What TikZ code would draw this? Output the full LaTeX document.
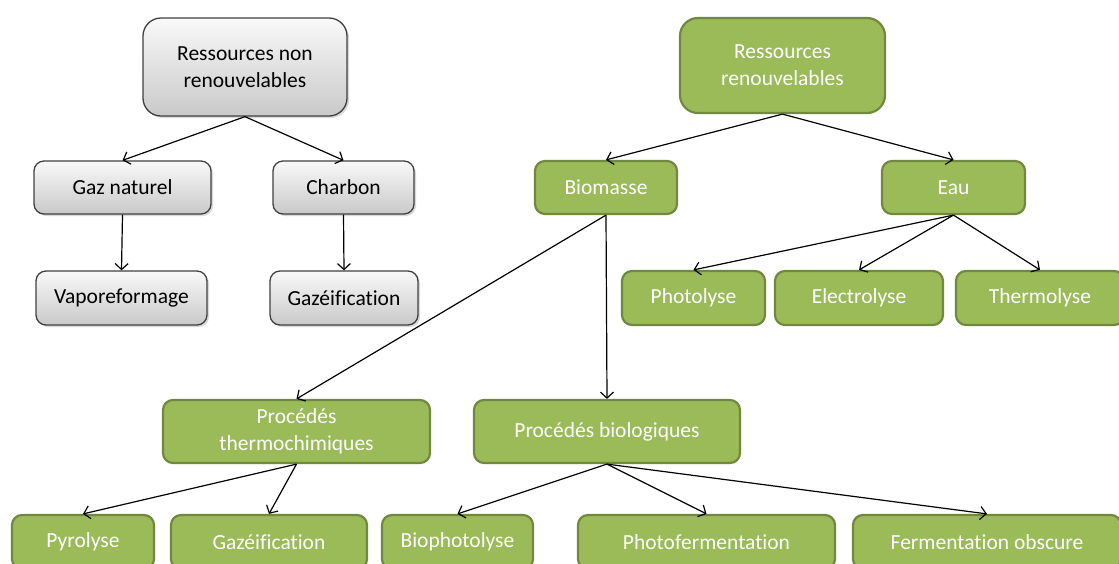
\documentclass[tikz,border=0pt]{standalone}
\usepackage{fontspec}
\setmainfont{Carlito}[Ligatures=NoCommon]
\usetikzlibrary{arrows.meta,shadows}
\definecolor{grn}{HTML}{9BBB59}
\definecolor{grnb}{HTML}{71893F}
\begin{document}
\begin{tikzpicture}[x=1pt,y=-1pt,
 txt/.style={font=\fontsize{21.5}{27}\selectfont, align=center, inner sep=0pt},
 gbox/.style={txt, draw=black!75, line width=1.3pt, top color=gray!5, bottom color=gray!42, rounded corners=10pt,
   drop shadow={opacity=0.3,shadow xshift=2pt,shadow yshift=-2pt}},
 vbox/.style={txt, draw=grnb, line width=2.2pt, fill=grn, text=white, rounded corners=10pt},
 big/.style={rounded corners=18pt},
 arr/.style={-{Straight Barb[length=6pt,width=13pt]}, line width=1.2pt}]
\useasboundingbox (0,0) rectangle (1119,563);
% grey tree
\node[gbox, big, minimum width=204pt, minimum height=98pt] (rnr) at (245,67) {Ressources non\\renouvelables};
\node[gbox, minimum width=177pt, minimum height=53pt] (gaz) at (122.5,187.5) {Gaz naturel};
\node[gbox, minimum width=141pt, minimum height=53pt] (charbon) at (343.5,187.5) {Charbon};
\node[gbox, minimum width=171pt, minimum height=54pt] (vapo) at (121.5,298) {Vaporeformage};
\node[gbox, minimum width=148pt, minimum height=54pt] (gazg) at (344,298) {Gazéification};
% green tree
\node[vbox, big, minimum width=205pt, minimum height=95pt] (rr) at (782.5,65.5) {Ressources\\renouvelables};
\node[vbox, minimum width=142pt, minimum height=53pt] (bio) at (606,187.5) {Biomasse};
\node[vbox, minimum width=143pt, minimum height=53pt] (eau) at (953.5,187.5) {Eau};
\node[vbox, minimum width=143pt, minimum height=54pt] (photo) at (693.5,298) {Photolyse};
\node[vbox, minimum width=168pt, minimum height=54pt] (elec) at (859,298) {Electrolyse};
\node[vbox, minimum width=168pt, minimum height=54pt] (thermo) at (1040,298) {Thermolyse};
\node[vbox, minimum width=267pt, minimum height=63pt] (pth) at (296.5,431.5) {Procédés\\thermochimiques};
\node[vbox, minimum width=266pt, minimum height=63pt] (pbio) at (607,431.5) {Procédés biologiques};
\node[vbox, minimum width=142pt, minimum height=54pt] (pyro) at (83,542) {Pyrolyse};
\node[vbox, minimum width=196pt, minimum height=54pt] (gazv) at (269,542) {Gazéification};
\node[vbox, minimum width=151pt, minimum height=54pt] (biop) at (457.5,542) {Biophotolyse};
\node[vbox, minimum width=257pt, minimum height=54pt] (photof) at (706.5,542) {Photofermentation};
\node[vbox, minimum width=268pt, minimum height=54pt] (ferm) at (987,542) {Fermentation obscure};
% arrows
\draw[arr] (rnr.south) -- (gaz.north);
\draw[arr] (rnr.south) -- (charbon.north);
\draw[arr] (gaz.south) -- (vapo.north);
\draw[arr] (charbon.south) -- (gazg.north);
\draw[arr] (rr.south) -- (bio.north);
\draw[arr] (rr.south) -- (eau.north);
\draw[arr] (bio.south) -- (pth.north);
\draw[arr] (bio.south) -- (pbio.north);
\draw[arr] (eau.south) -- (photo.north);
\draw[arr] (eau.south) -- (elec.north);
\draw[arr] (eau.south) -- (thermo.north);
\draw[arr] (pth.south) -- (pyro.north);
\draw[arr] (pth.south) -- (gazv.north);
\draw[arr] (pbio.south) -- (biop.north);
\draw[arr] (pbio.south) -- (photof.north);
\draw[arr] (pbio.south) -- (ferm.north);
\end{tikzpicture}
\end{document}
